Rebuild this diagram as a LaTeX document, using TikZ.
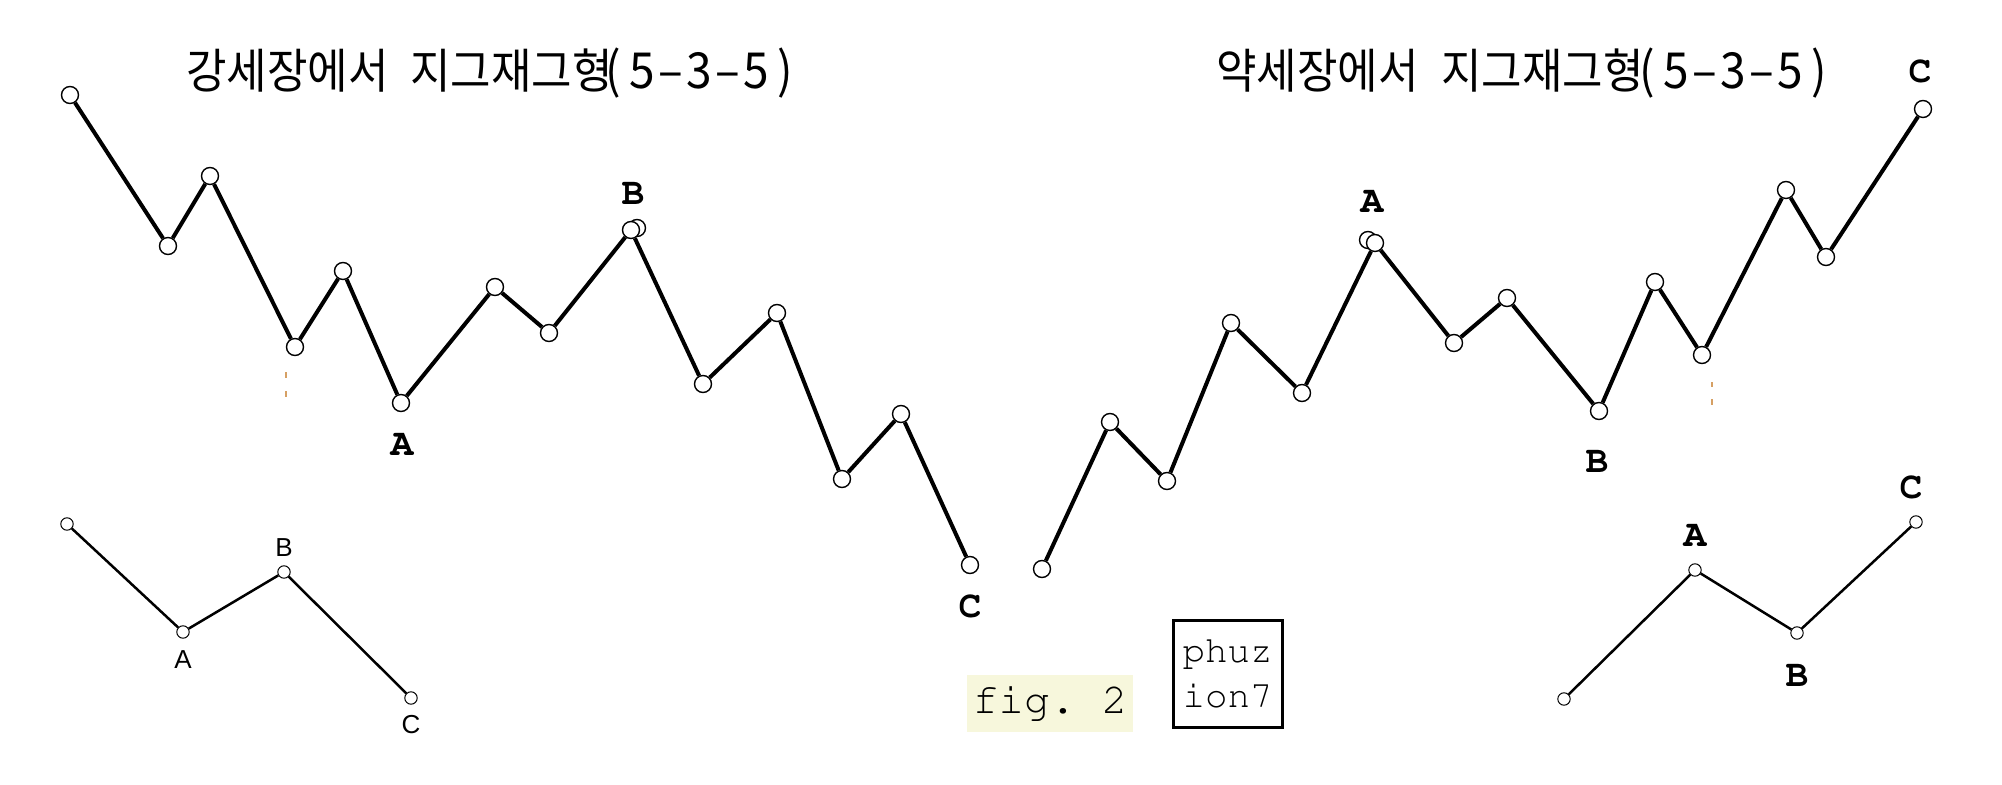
\documentclass[tikz,border=0pt]{standalone}
\usepackage{fontspec}
\setmainfont{Liberation Sans}
\newfontfamily\kr{Noto Sans CJK KR}
\newcommand\cour{\fontencoding{T1}\fontfamily{pcr}\selectfont}
\newfontfamily\lsans{Liberation Sans}
\definecolor{figbg}{RGB}{247,247,220}
\definecolor{tanmark}{RGB}{214,160,100}
\newcommand\pc[2]{\makebox[#1][c]{#2}}
\newcommand\fts[1]{\pc{#1}{(}\pc{#1}{5}\pc{#1}{–}\pc{#1}{3}\pc{#1}{–}\pc{#1}{5}\pc{#1}{)}}
\tikzset{
  wpt/.style={circle, draw, fill=white, line width=0.7pt, minimum size=8.5pt, inner sep=0pt},
  spt/.style={circle, draw, fill=white, line width=0.5pt, minimum size=6.2pt, inner sep=0pt},
  wave/.style={line width=2pt, line join=round},
  swave/.style={line width=1.25pt, line join=round},
  lbl/.style={font=\cour\bfseries\fontsize{19pt}{19pt}\selectfont, inner sep=0pt},
  slbl/.style={font=\lsans\fontsize{13pt}{13pt}\selectfont, inner sep=0pt},
  ttl/.style={font=\kr\fontsize{22pt}{22pt}\selectfont, inner sep=0pt, anchor=base west},
  marks/.style={fill=tanmark},
}
\begin{document}
\begin{tikzpicture}[x=0.5pt,y=-0.5pt]
\fill[white] (0,0) rectangle (2002,785);
\useasboundingbox (0,0) rectangle (2002,785);

% titles
\node[ttl] (t1) at (186,89) {\scalebox{1}[1.08]{\makebox[112pt][l]{강세장에서}\makebox[94.5pt][l]{지그재그형}{\fontsize{23pt}{23pt}\selectfont\fts{14.3pt}}}};
\node[ttl] (t2) at (1216,89) {\scalebox{1}[1.08]{\makebox[112.5pt][l]{약세장에서}\makebox[96pt][l]{지그재그형}{\fontsize{23pt}{23pt}\selectfont\fts{14.3pt}}}};

% left main wave
\node[wpt] (L0) at (70,95) {};
\node[wpt] (L1) at (168,246) {};
\node[wpt] (L2) at (210,176) {};
\node[wpt] (L3) at (295,347) {};
\node[wpt] (L4) at (343,271) {};
\node[wpt] (L5) at (401,403) {};
\node[wpt] (L6) at (495,287) {};
\node[wpt] (L7) at (549,333) {};
\node[wpt] (L8g) at (637,228) {};
\node[wpt] (L8) at (631,230) {};
\node[wpt] (L9) at (703,384) {};
\node[wpt] (L10) at (777,313) {};
\node[wpt] (L11) at (842,479) {};
\node[wpt] (L12) at (901,414) {};
\node[wpt] (L13) at (970,565) {};
\draw[wave] (L0) -- (L1) -- (L2) -- (L3) -- (L4) -- (L5) -- (L6) -- (L7) -- (L8) -- (L9) -- (L10) -- (L11) -- (L12) -- (L13);
\node[lbl] (LA) at (402,445) {A};
\node[lbl] (LB) at (633,194) {B};
\node[lbl] (LC) at (970,607) {C};

% right main wave
\node[wpt] (R0) at (1042,569) {};
\node[wpt] (R1) at (1110,422) {};
\node[wpt] (R2) at (1167,481) {};
\node[wpt] (R3) at (1231,323) {};
\node[wpt] (R4) at (1302,393) {};
\node[wpt] (R5g) at (1368,240) {};
\node[wpt] (R5) at (1375,243) {};
\node[wpt] (R6) at (1454,343) {};
\node[wpt] (R7) at (1507,298) {};
\node[wpt] (R8) at (1599,411) {};
\node[wpt] (R9) at (1655,282) {};
\node[wpt] (R10) at (1702,355) {};
\node[wpt] (R11) at (1786,190) {};
\node[wpt] (R12) at (1826,257) {};
\node[wpt] (R13) at (1923,109) {};
\draw[wave] (R0) -- (R1) -- (R2) -- (R3) -- (R4) -- (R5) -- (R6) -- (R7) -- (R8) -- (R9) -- (R10) -- (R11) -- (R12) -- (R13);
\node[lbl] (RA) at (1372,202) {A};
\node[lbl] (RB) at (1597,462) {B};
\node[lbl] (RC) at (1920,72) {C};

% tiny marks
\fill[marks] (285,372) rectangle (287,378);
\fill[marks] (285,391) rectangle (287,397);
\fill[marks] (1711,382) rectangle (1713,387);
\fill[marks] (1711,399) rectangle (1713,405);

% small left
\node[spt] (SL0) at (67,524) {};
\node[spt] (SL1) at (183,632) {};
\node[spt] (SL2) at (284,572) {};
\node[spt] (SL3) at (411,698) {};
\draw[swave] (SL0) -- (SL1) -- (SL2) -- (SL3);
\node[slbl] (SLA) at (183,660) {A};
\node[slbl] (SLB) at (284,548) {B};
\node[slbl] (SLC) at (411,725) {C};

% small right
\node[spt] (SR0) at (1564,699) {};
\node[spt] (SR1) at (1695,570) {};
\node[spt] (SR2) at (1797,633) {};
\node[spt] (SR3) at (1916,522) {};
\draw[swave] (SR0) -- (SR1) -- (SR2) -- (SR3);
\node[lbl] (SRA) at (1695,536) {A};
\node[lbl] (SRB) at (1797,676) {B};
\node[lbl] (SRC) at (1911,488) {C};

% fig. 2 and signature
\node[fill=figbg, minimum width=83pt, minimum height=28.5pt, inner sep=0pt, font=\cour\fontsize{21.5pt}{21.5pt}\selectfont] (fig) at (1050,703.5) {fig.\ 2};
\node[draw, line width=1.5pt, minimum width=54.5pt, minimum height=53.5pt, inner sep=3pt, align=left, font=\cour\fontsize{18.75pt}{22.5pt}\selectfont] (sig) at (1227.5,673.5) {phuz\\ion7};
\end{tikzpicture}
\end{document}
